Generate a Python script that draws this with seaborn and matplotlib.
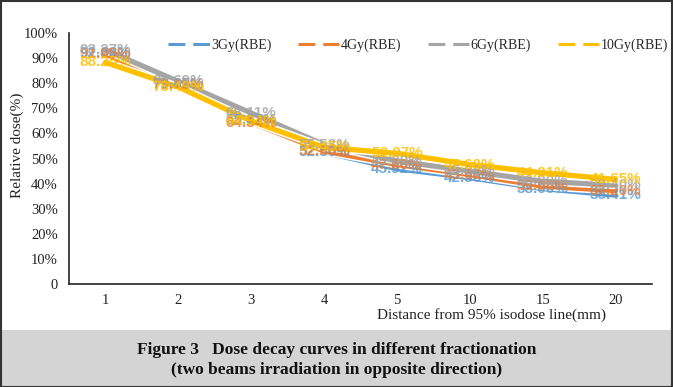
import numpy as np
import pandas as pd
import matplotlib
matplotlib.use("Agg")
import matplotlib.pyplot as plt
import matplotlib.patheffects as pe
from matplotlib.lines import Line2D
from matplotlib.patches import Rectangle
from matplotlib.ticker import FuncFormatter
import seaborn as sns

# distance from 95% isodose line (mm), categorical axis
distances = ["1", "2", "3", "4", "5", "10", "15", "20"]
series_names = ["3Gy(RBE)", "4Gy(RBE)", "6Gy(RBE)", "10Gy(RBE)"]
dose_3gy = [92.02, 79.85, 65.37, 52.50, 45.92, 42.36, 38.00, 35.41]
dose_4gy = [91.65, 79.12, 64.34, 52.98, 47.60, 43.60, 39.00, 37.20]
dose_6gy = [93.27, 80.69, 68.11, 55.53, 49.00, 45.00, 40.90, 39.40]
dose_10gy = [88.25, 78.49, 64.94, 54.45, 52.07, 47.60, 44.31, 41.65]
colors = ["#5B9BD5", "#ED7D31", "#A5A5A5", "#FFC000"]

df = pd.concat([
    pd.DataFrame({"Distance": distances, "Dose": vals, "Fraction": name})
    for name, vals in zip(series_names, [dose_3gy, dose_4gy, dose_6gy, dose_10gy])
], ignore_index=True)

sns.set_theme(style="white")
serif = ["Liberation Serif", "DejaVu Serif"]

fig = plt.figure(figsize=(6.73, 3.87), dpi=100)
ax = fig.add_axes([69 / 673, 1 - 284 / 387, (652 - 69) / 673, (284 - 33) / 387])

sns.lineplot(data=df, x="Distance", y="Dose", hue="Fraction", hue_order=series_names,
             palette=colors, linewidth=3.8, sort=False, legend=False, ax=ax)
for ln in ax.lines:
    ln.set_path_effects([pe.Stroke(linewidth=6.0, foreground="white"), pe.Normal()])
    ln.set_solid_joinstyle("miter")

# value labels centred on each point
for k, (name, col) in enumerate(zip(series_names, colors)):
    vals = df[df["Fraction"] == name]["Dose"].to_numpy()
    for i, v in enumerate(vals):
        ax.text(i, v, f"{v:.2f}%", color=col, ha="center", va="center",
                fontsize=11, fontweight="bold", family=["Liberation Sans", "DejaVu Sans"],
                alpha=0.85, zorder=5 + k)

ax.set_xlim(-0.5, len(distances) - 0.5)
ax.set_ylim(0, 100)
ax.set_yticks(np.arange(0, 101, 10))
ax.yaxis.set_major_formatter(FuncFormatter(lambda v, p: "0" if v == 0 else f"{v:.0f}%"))
ax.set_xticks(range(len(distances)))
ax.set_xticklabels(distances)
ax.set_xticks(np.arange(-0.5, len(distances), 1), minor=True)
ax.tick_params(axis="x", which="major", length=0, pad=7)
ax.tick_params(axis="x", which="minor", direction="in", length=5, width=1, color="#222222")
ax.tick_params(axis="y", which="major", direction="out", length=5, width=1, color="#222222", pad=3)
for lab in ax.get_xticklabels() + ax.get_yticklabels():
    lab.set_family(serif)
    lab.set_fontsize(10.5)
    lab.set_color("#222222")

for s in ["top", "right"]:
    ax.spines[s].set_visible(False)
for s in ["left", "bottom"]:
    ax.spines[s].set_color("#222222")
    ax.spines[s].set_linewidth(1.2)
ax.set_xlabel("")
ax.set_ylabel("")

fig.text(17 / 673, 1 - 145 / 387, "Relative dose(%)", rotation=90, ha="center", va="center",
         family=serif, fontsize=11, color="#222222")
fig.text(492 / 673, 1 - 315 / 387, "Distance from 95% isodose line(mm)", ha="center", va="center",
         family=serif, fontsize=11, color="#222222")

# legend with dashed handles
handles = [Line2D([0], [0], color=c, lw=2.2, linestyle=(0, (5.5, 2.6))) for c in colors]
fig.legend(handles, series_names, loc="center left", bbox_to_anchor=(168 / 673, 1 - 45 / 387),
           ncol=4, frameon=False, borderpad=0, borderaxespad=0, handlelength=3.0,
           handletextpad=0.1, columnspacing=1.9, prop={"family": serif, "size": 10})

# caption band and border
fig.patches.append(Rectangle((0, 0), 1, 1 - 330 / 387, transform=fig.transFigure,
                             facecolor="#d4d4d4", edgecolor="none", zorder=-1))
fig.patches.append(Rectangle((0.001, 0.001), 0.997, 0.997, transform=fig.transFigure,
                             facecolor="none", edgecolor="#333333", linewidth=1.5, zorder=10))
fig.text(0.5, 1 - 350 / 387, "Figure 3   Dose decay curves in different fractionation",
         ha="center", va="center", family=serif, fontsize=12.5, fontweight="bold", color="#111111")
fig.text(0.5, 1 - 370 / 387, "(two beams irradiation in opposite direction)",
         ha="center", va="center", family=serif, fontsize=12.5, fontweight="bold", color="#111111")

fig.savefig("out.png", dpi=100)
